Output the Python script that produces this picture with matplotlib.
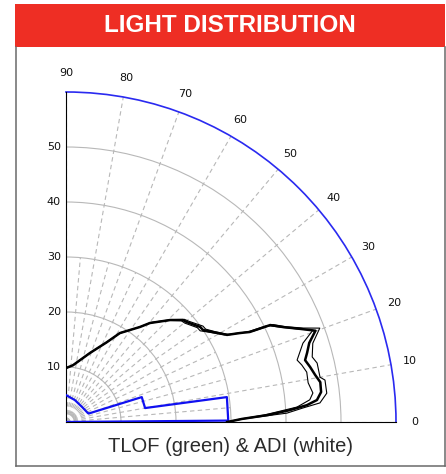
import numpy as np
import matplotlib
matplotlib.use("Agg")
import matplotlib.pyplot as plt
from matplotlib.patches import Rectangle
from matplotlib.lines import Line2D
import matplotlib.transforms as mtransforms

W, H = 446, 474

title = "LIGHT DISTRIBUTION"
caption = "TLOF (green) & ADI (white)"
angle_ticks = [0, 10, 20, 30, 40, 50, 60, 70, 80, 90]
radial_ticks = [10, 20, 30, 40, 50]
r_max = 60

# main (thick) intensity curve: vertical angle (deg) -> value
main_theta = [0, 1, 2, 3, 4, 5, 6.7, 8.9, 10.7, 12.7, 14.5, 16.0, 18.0, 20.1,
              21.7, 23.6, 25.4, 26.1, 27.1, 28.4, 31.5, 33.9, 35.3, 39.6, 41.1,
              44.4, 49.7, 52.1, 58.8, 62.9, 70.8, 83.0, 90]
main_r = [29.3, 32.0, 36.8, 40.6, 43.9, 45.8, 46.7, 46.8, 46.1, 45.5, 44.9, 45.6, 46.5, 48.3,
          45.8, 43.1, 41.1, 37.2, 35.5, 33.3, 31.3, 30.0, 29.9, 28.5, 28.2,
          26.5, 23.6, 21.9, 18.9, 16.3, 13.3, 10.4, 9.8]

# inner (thin) curve
inner_theta = [0, 1, 2, 3.7, 5.2, 6.7, 9.2, 11.7, 13.6, 15.0, 18.4, 20.4,
               22.0, 23.8, 25.6, 26.4, 27.4, 28.8, 31.8, 34.2, 35.7, 39.8, 41.3,
               44.6, 49.9, 52.3, 58.9, 63.0, 70.9, 83.0, 90]
inner_r = [29.3, 31.8, 36.0, 42.1, 44.5, 45.2, 44.6, 44.7, 44.1, 43.5, 45.4, 47.9,
           45.2, 42.7, 40.6, 36.8, 35.1, 32.9, 30.9, 29.5, 29.4, 28.1, 27.9,
           26.3, 23.5, 21.8, 18.8, 16.3, 13.3, 10.4, 9.8]

# outer (thin) curve
outer_theta = [0, 1, 2.3, 3.4, 4.3, 6.3, 9.2, 10.0, 13.2, 14.8, 17.7, 20.3,
               21.6, 23.4, 25.2, 25.9, 26.9, 28.1, 31.2, 33.6, 35.0, 39.3, 40.9,
               44.2, 49.5, 51.9, 58.7, 62.8, 70.7, 83.0, 90]
outer_r = [29.3, 32.3, 40.2, 43.2, 46.3, 47.7, 47.7, 46.9, 46.9, 46.3, 47.1, 49.2,
           46.4, 43.6, 41.6, 37.7, 35.9, 33.7, 31.7, 30.5, 30.4, 28.9, 28.5,
           26.7, 23.8, 22.0, 19.0, 16.3, 13.3, 10.4, 9.8]

# blue requirement envelope
blue_theta = [90, 68, 43, 22, 20.5, 18.2, 10.0, 8.8, 0.5, 0.5]
blue_r = [4.9, 4.3, 4.0, 4.3, 4.4, 14.5, 14.6, 29.6, 29.5, 0.0]

fig = plt.figure(figsize=(W / 100, H / 100), dpi=100)
fig.patch.set_facecolor("white")

# header band
fig.add_artist(Rectangle((15 / W, (H - 47) / H), 430 / W, 43 / H,
                         transform=fig.transFigure, facecolor="#EE2E24",
                         edgecolor="none"))
fig.text(230 / W, (H - 26) / H, title, color="white", fontsize=17.5,
         fontweight="bold", family="Liberation Sans", ha="center", va="center")

# frame
frame_col = "#6a6a6a"
fig.add_artist(Line2D([15.5 / W, 15.5 / W], [(H - 47) / H, (H - 466) / H],
                      transform=fig.transFigure, color=frame_col, lw=1.1))
fig.add_artist(Line2D([444.5 / W, 444.5 / W], [(H - 47) / H, (H - 466) / H],
                      transform=fig.transFigure, color=frame_col, lw=1.1))
fig.add_artist(Line2D([15.5 / W, 444.5 / W], [(H - 466) / H, (H - 466) / H],
                      transform=fig.transFigure, color=frame_col, lw=1.1))

fig.text(230 / W, (H - 446) / H, caption, color="#2b2b2b", fontsize=14.5,
         family="Liberation Sans", ha="center", va="center")

ax = fig.add_axes([66 / W, 52 / H, 330 / W, 330 / H], projection="polar")
ax.set_thetamin(0)
ax.set_thetamax(90)
ax.set_rlim(0, r_max)
ax.set_xticks(np.deg2rad(angle_ticks))
ax.set_xticklabels([])
ax.set_yticks(radial_ticks)
ax.set_yticklabels([])
ax.tick_params(length=0)
grid_col = "#b8b8b8"
ax.xaxis.grid(True, color=grid_col, lw=0.8, ls=(0, (4, 3)))
ax.yaxis.grid(True, color=grid_col, lw=0.8, ls="-")
for s in ["start", "end", "inner"]:
    ax.spines[s].set_visible(False)
ax.spines["polar"].set_color("#2a2af0")
ax.spines["polar"].set_linewidth(1.2)

# finer inner angular grid
for t in range(5, 90, 10):
    ax.plot([np.deg2rad(t)] * 2, [0, 30], color=grid_col, lw=0.8,
            ls=(0, (4, 3)), zorder=1)

# data
ax.plot(np.deg2rad(blue_theta), blue_r, color="#1010f0", lw=1.6, zorder=3)
ax.plot(np.deg2rad(inner_theta), inner_r, color="black", lw=0.8, zorder=4)
ax.plot(np.deg2rad(outer_theta), outer_r, color="black", lw=0.8, zorder=4)
ax.plot(np.deg2rad(main_theta), main_r, color="black", lw=1.8, zorder=5)

# labels
for a in angle_ticks:
    ax.text(np.deg2rad(a), 63.5, str(a), fontsize=8, family="DejaVu Sans",
            ha="center", va="center", clip_on=False, color="#111111")
off = mtransforms.offset_copy(ax.transData, fig=fig, x=-5, y=0, units="dots")
for r in radial_ticks:
    ax.text(np.deg2rad(90), r, str(r), fontsize=8, family="DejaVu Sans",
            ha="right", va="center", transform=off, clip_on=False,
            color="#111111")

fig.savefig("out.png", dpi=100, facecolor="white")
